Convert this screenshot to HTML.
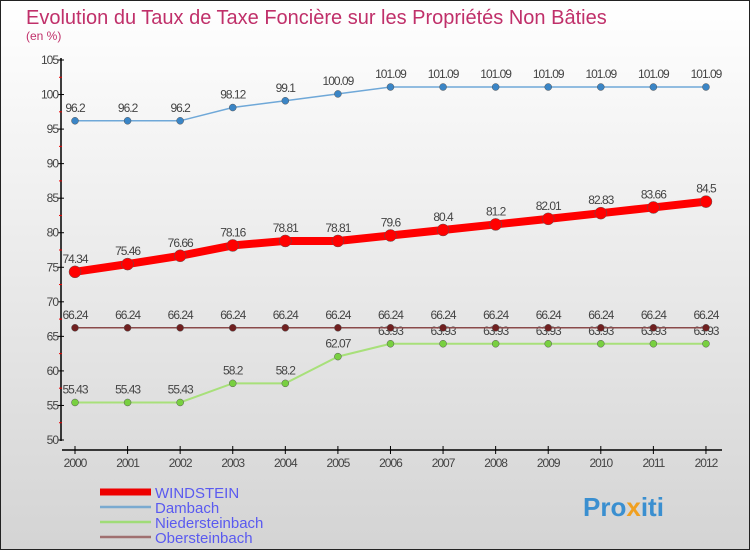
<!DOCTYPE html>
<html><head><meta charset="utf-8"><style>
body{margin:0;width:750px;height:550px;overflow:hidden;font-family:"Liberation Sans",sans-serif}
svg text{font-family:"Liberation Sans",sans-serif}
</style></head><body>
<svg id="c" width="750" height="550">
<defs><linearGradient id="bg" x1="0" y1="0" x2="0" y2="1"><stop offset="0" stop-color="#ffffff"/><stop offset="1" stop-color="#d4d4d4"/></linearGradient></defs>
<rect x="0.5" y="0.5" width="749" height="549" fill="url(#bg)" stroke="#222"/>
<text x="26" y="24" font-size="20" fill="#c0306a">Evolution du Taux de Taxe Foncière sur les Propriétés Non Bâties</text>
<text x="26" y="40" font-size="12" fill="#c0306a">(en %)</text>
<g id="axes"></g><g id="series"></g><g id="legend"></g>
<text x="583" y="516" font-size="26" font-weight="bold" fill="#3a8fd0">Pro<tspan fill="#f0a020">x</tspan><tspan fill="#3a8fd0">iti</tspan></text>
</svg>
<script>
const years=[2000,2001,2002,2003,2004,2005,2006,2007,2008,2009,2010,2011,2012];
const yTicks=[50,55,60,65,70,75,80,85,90,95,100,105];
const windstein=[74.34,75.46,76.66,78.16,78.81,78.81,79.6,80.4,81.2,82.01,82.83,83.66,84.5];
const dambach=[96.2,96.2,96.2,98.12,99.1,100.09,101.09,101.09,101.09,101.09,101.09,101.09,101.09];
const nieder=[55.43,55.43,55.43,58.2,58.2,62.07,63.93,63.93,63.93,63.93,63.93,63.93,63.93];
const ober=[66.24,66.24,66.24,66.24,66.24,66.24,66.24,66.24,66.24,66.24,66.24,66.24,66.24];
const NS="http://www.w3.org/2000/svg";
const xS=i=>75+i*52.58;
const yS=v=>440-(v-50)*(380/55);
function mk(t,a,p){const e=document.createElementNS(NS,t);for(const k in a)e.setAttribute(k,a[k]);(p||document.getElementById('series')).appendChild(e);return e;}
const ax=document.getElementById('axes');
let e=mk('line',{x1:61,y1:58,x2:61,y2:441,stroke:'#000','stroke-width':1.5},ax);


e=mk('line',{x1:62,y1:450,x2:722,y2:450,stroke:'#000','stroke-width':1.5},ax);


yTicks.forEach((v,i)=>{
 mk('line',{x1:58,y1:yS(v),x2:64,y2:yS(v),stroke:'#000'},ax);
 if(i<yTicks.length-1)mk('line',{x1:59,y1:yS(v+2.5),x2:62,y2:yS(v+2.5),stroke:'#e00'},ax);
 const t=mk('text',{x:58,y:yS(v)+4,'font-size':12,fill:'#444','text-anchor':'end','letter-spacing':'-1'},ax);
 t.textContent=v;
 
 
});
years.forEach((y,i)=>{
 mk('line',{x1:xS(i),y1:446,x2:xS(i),y2:454,stroke:'#000'},ax);
 const t=mk('text',{x:xS(i),y:467,'font-size':12,fill:'#444','text-anchor':'middle','letter-spacing':'-1'},ax);
 t.textContent=y;
 
 
});
function series(vals,color,dot,w,r,name){
 const p=mk('polyline',{points:vals.map((v,i)=>xS(i)+','+yS(v)).join(' '),fill:'none',stroke:color,'stroke-width':w});
 
 
 vals.forEach((v,i)=>{
  const c=mk('circle',{cx:xS(i),cy:yS(v),r:r,fill:dot,stroke:'#555','stroke-width':0.5});
  
  
  const t=mk('text',{x:xS(i),y:yS(v)-9,'font-size':12,fill:'#444','text-anchor':'middle','letter-spacing':'-1'});
  t.textContent=v;
  
  
 });
}
series(dambach,'#6fa8d8','#3a85c6',1.5,3.5,'dambach');
series(nieder,'#a8e07a','#78d040',2,3.5,'niedersteinbach');
series(ober,'#8a4a4a','#702020',1.5,3.5,'obersteinbach');
series(windstein,'#ff0000','#ff0000',8,6,'windstein');
const lg=document.getElementById('legend');
const ln=['WINDSTEIN','Dambach','Niedersteinbach','Obersteinbach'];
const lc=['#ee0000','#7aaad0','#a0dc78','#a07070'];
const lw=[7,2.5,2.5,2.5];
ln.forEach((n,i)=>{
 const y=492+i*15;
 const l=mk('line',{x1:100,y1:y,x2:151,y2:y,stroke:lc[i],'stroke-width':lw[i]},lg);
 
 
 const t=mk('text',{x:155,y:y+6,'font-size':15,fill:'#5a5af0'},lg);
 t.textContent=n;
 
 
});
</script>
</body></html>
